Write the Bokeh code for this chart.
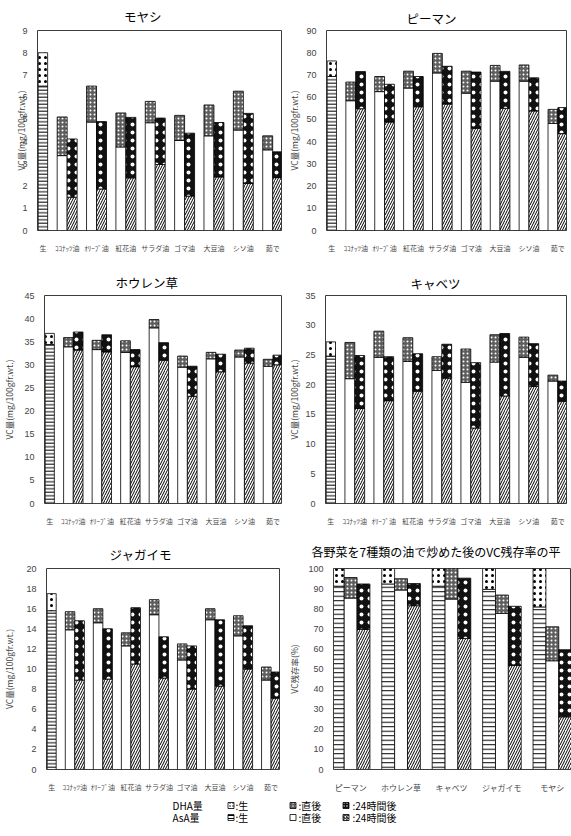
import numpy as np
from bokeh.plotting import figure
from bokeh.layouts import column, row
from bokeh.models import Range1d, FixedTicker
from bokeh.embed import file_html
from bokeh.resources import INLINE
from bokeh.core.properties import value

JP = "Noto Sans CJK JP"
NUM = "Liberation Sans"

# ---- x-axis labels -------------------------------------------------------
raw_label = "生"
oil_labels = ["ｺｺﾅｯﾂ油", "ｵﾘｰﾌﾞ油", "紅花油", "サラダ油", "ゴマ油", "大豆油", "シソ油", "茹で"]
veg_labels = ["ピーマン", "ホウレン草", "キャベツ", "ジャガイモ", "モヤシ"]

# ---- VC content (mg/100gfr.wt.) : AsA and DHA --------------------------
# raw value, then per oil: right after stir-frying (imm) and 24 h later (24h)
moyashi_raw = [6.5, 1.5]
moyashi_imm_asa = [3.37, 4.88, 3.76, 4.85, 4.05, 4.26, 4.52, 3.63]
moyashi_imm_dha = [1.74, 1.62, 1.53, 0.96, 1.13, 1.39, 1.75, 0.63]
moyashi_24h_asa = [1.50, 1.87, 2.37, 2.97, 1.55, 2.41, 2.12, 2.38]
moyashi_24h_dha = [2.62, 3.03, 2.72, 2.09, 2.83, 2.45, 3.15, 1.16]

piman_raw = [69.3, 7.0]
piman_imm_asa = [58.4, 62.5, 64.1, 70.9, 61.8, 67.2, 67.2, 48.2]
piman_imm_dha = [8.4, 6.8, 7.6, 8.8, 9.9, 7.1, 7.3, 6.3]
piman_24h_asa = [54.8, 48.8, 55.7, 56.9, 46.0, 55.0, 53.8, 43.6]
piman_24h_dha = [16.7, 17.0, 13.6, 17.0, 25.3, 16.6, 14.9, 11.7]

horenso_raw = [34.4, 2.4]
horenso_imm_asa = [33.9, 33.3, 32.7, 38.0, 29.5, 31.3, 31.7, 29.7]
horenso_imm_dha = [2.0, 2.0, 2.5, 1.8, 2.4, 1.4, 1.5, 1.5]
horenso_24h_asa = [33.2, 32.8, 29.6, 31.0, 23.2, 28.5, 30.4, 30.0]
horenso_24h_dha = [3.9, 3.7, 3.7, 3.8, 6.5, 3.8, 3.2, 2.1]

cabbage_raw = [24.8, 2.4]
cabbage_imm_asa = [21.0, 24.6, 23.9, 22.4, 20.4, 23.8, 24.6, 20.6]
cabbage_imm_dha = [6.1, 4.4, 4.0, 2.3, 5.6, 4.6, 3.4, 1.0]
cabbage_24h_asa = [16.0, 17.3, 18.9, 21.1, 12.7, 18.1, 19.7, 17.2]
cabbage_24h_dha = [8.9, 7.4, 6.3, 5.7, 11.0, 10.5, 7.2, 3.4]

potato_raw = [15.8, 1.7]
potato_imm_asa = [13.9, 14.6, 12.3, 15.4, 10.9, 14.9, 13.3, 8.9]
potato_imm_dha = [1.8, 1.4, 1.3, 1.5, 1.6, 1.1, 2.0, 1.3]
potato_24h_asa = [8.9, 9.0, 10.5, 9.1, 8.0, 8.3, 10.0, 7.1]
potato_24h_dha = [5.9, 5.0, 5.6, 4.1, 4.3, 6.6, 4.3, 2.6]

# ---- mean VC residual rate (%) over the seven oils ----------------------
res_raw_asa = [91.2, 92.3, 91.2, 89.6, 80.9]
res_raw_dha = [8.8, 7.7, 8.8, 10.4, 19.1]
res_imm_asa = [85.3, 89.3, 84.8, 77.7, 54.1]
res_imm_dha = [10.2, 5.6, 15.7, 9.1, 16.9]
res_24h_asa = [69.7, 81.5, 65.2, 51.8, 26.2]
res_24h_dha = [22.6, 11.0, 30.0, 29.4, 33.4]

legend_rows = ["DHA量", "AsA量"]
legend_stages = [":生", ":直後", ":24時間後"]

# ---- fill styles -------------------------------------------------------
STYLE = {
    "raw_asa": dict(fill_color="white", hatch_pattern="horizontal_line",
                    hatch_color="black", hatch_scale=3.5, hatch_weight=1),
    "raw_dha": dict(fill_color="white", hatch_pattern="dot",
                    hatch_color="black", hatch_scale=6, hatch_weight=0.6),
    "imm_asa": dict(fill_color="white"),
    "imm_dha": dict(fill_color="#5e5e5e", hatch_pattern="dot",
                    hatch_color="white", hatch_scale=4, hatch_weight=0.5),
    "h24_asa": dict(fill_color="white", hatch_pattern="right_diagonal_line",
                    hatch_color="black", hatch_scale=5, hatch_weight=1),
    "h24_dha": dict(fill_color="#111111", hatch_pattern="dot",
                    hatch_color="white", hatch_scale=8, hatch_weight=0.6),
}


def stack(p, x, width, asa, dha, kind, hscale=None):
    asa = np.atleast_1d(np.asarray(asa, dtype=float))
    dha = np.atleast_1d(np.asarray(dha, dtype=float))
    s_asa = dict(STYLE[kind + "_asa"])
    s_dha = dict(STYLE[kind + "_dha"])
    if hscale is not None and kind == "raw":
        s_asa["hatch_scale"] = hscale
    p.vbar(x=list(x), width=width, bottom=0, top=asa,
           line_color="black", line_width=0.8, **s_asa)
    p.vbar(x=list(x), width=width, bottom=asa, top=asa + dha,
           line_color="black", line_width=0.8, **s_dha)


def base_figure(w, h, left, right, top, bottom, xr, ymax, ystep, ylabel,
                title, t_offset, t_standoff, lab_standoff, t_size="12.5px"):
    p = figure(width=w, height=h, x_range=xr, y_range=Range1d(0, ymax),
               output_backend="svg", toolbar_location=None,
               min_border_left=left, min_border_right=right,
               min_border_top=top, min_border_bottom=bottom)
    p.background_fill_color = "white"
    p.border_fill_color = "white"
    p.outline_line_color = "#3c3c3c"
    p.outline_line_width = 1
    p.xgrid.visible = False
    p.ygrid.visible = False

    p.title.text = title
    p.title.align = "left"
    p.title.offset = t_offset
    p.title.standoff = t_standoff
    p.title.text_font = JP
    p.title.text_font_size = t_size
    p.title.text_font_style = "normal"
    p.title.text_color = "black"

    ya = p.yaxis[0]
    ya.ticker = FixedTicker(ticks=list(range(0, ymax + 1, ystep)))
    ya.axis_label = ylabel
    ya.axis_label_text_font = JP
    ya.axis_label_text_font_size = "8.5px"
    ya.axis_label_text_font_style = "normal"
    ya.axis_label_standoff = lab_standoff
    ya.major_label_text_font = NUM
    ya.major_label_text_font_size = "9px"
    ya.major_label_standoff = 4
    ya.axis_line_color = None
    ya.major_tick_line_color = None
    ya.minor_tick_line_color = None

    xa = p.xaxis[0]
    xa.axis_line_color = None
    xa.major_tick_line_color = None
    xa.minor_tick_line_color = None
    xa.major_label_text_font = JP
    xa.major_label_standoff = 6
    return p


def vc_panel(title, raw, imm_asa, imm_dha, h24_asa, h24_dha, ymax, ystep,
             w, h, left, right, top, bottom, t_offset, t_standoff, lab_standoff):
    p = base_figure(w, h, left, right, top, bottom, Range1d(-0.01, 8.3),
                    ymax, ystep, "VC量(mg/100gfr.wt.)", title,
                    t_offset, t_standoff, lab_standoff)
    raw_x = 0.175
    pos = np.arange(1, len(oil_labels) + 1)
    stack(p, [raw_x], 0.32, raw[0], raw[1], "raw")
    stack(p, pos - 0.17, 0.34, imm_asa, imm_dha, "imm")
    stack(p, pos + 0.17, 0.34, h24_asa, h24_dha, "h24")

    xa = p.xaxis[0]
    xa.ticker = FixedTicker(ticks=[raw_x] + [int(v) for v in pos])
    overrides = {raw_x: raw_label}
    for v, lab in zip(pos, oil_labels):
        overrides[int(v)] = lab
    xa.major_label_overrides = overrides
    xa.major_label_text_font_size = "7px"
    return p


p1 = vc_panel("モヤシ", moyashi_raw, moyashi_imm_asa, moyashi_imm_dha,
              moyashi_24h_asa, moyashi_24h_dha, 9, 1,
              285, 255, 37, 4, 28, 20, 86.5, 9, -8)
p2 = vc_panel("ピーマン", piman_raw, piman_imm_asa, piman_imm_dha,
              piman_24h_asa, piman_24h_dha, 90, 10,
              286, 255, 40, 5, 30, 18, 80, 6, 3)
p3 = vc_panel("ホウレン草", horenso_raw, horenso_imm_asa, horenso_imm_dha,
              horenso_24h_asa, horenso_24h_dha, 45, 5,
              285, 275, 33, 4, 37, 27, 71, 7, 6)
p4 = vc_panel("キャベツ", cabbage_raw, cabbage_imm_asa, cabbage_imm_dha,
              cabbage_24h_asa, cabbage_24h_dha, 35, 5,
              286, 275, 40, 5, 40, 26, 85, 6, 2)
p5 = vc_panel("ジャガイモ", potato_raw, potato_imm_asa, potato_imm_dha,
              potato_24h_asa, potato_24h_dha, 20, 2,
              285, 265, 37, 6, 33, 18, 63, 10, 8)

# residual-rate panel: three bars per vegetable
p6 = base_figure(286, 265, 39, 0, 38, 18, Range1d(-0.34, 4.38), 100, 10,
                 "VC残存率(%)", "各野菜を7種類の油で炒めた後のVC残存率の平",
                 -22, 18, 5, t_size="12px")
vx = np.arange(len(veg_labels))
bw = 0.255
stack(p6, vx - bw, bw, res_raw_asa, res_raw_dha, "raw", hscale=4.5)
stack(p6, vx, bw, res_imm_asa, res_imm_dha, "imm")
stack(p6, vx + bw, bw, res_24h_asa, res_24h_dha, "h24")
xa6 = p6.xaxis[0]
xa6.ticker = FixedTicker(ticks=[int(v) for v in vx])
xa6.major_label_overrides = {int(v): lab for v, lab in zip(vx, veg_labels)}
xa6.major_label_text_font_size = "8px"

# ---- legend strip ---------------------------------------------------------
leg = figure(width=571, height=41, x_range=Range1d(0, 571), y_range=Range1d(41, 0),
             output_backend="svg", toolbar_location=None, min_border=0)
leg.axis.visible = False
leg.grid.visible = False
leg.outline_line_color = None
leg.background_fill_color = "white"
leg.border_fill_color = "white"

row_y = [10, 22]
sym_x = [230.5, 292.5, 345.5]
txt_x = [235, 298, 352]
leg.text(x=[172, 172], y=row_y, text=legend_rows, text_font=value(JP),
         text_font_size="10px", text_baseline="middle", text_color="black")
for r, kinds in enumerate([["raw_dha", "imm_dha", "h24_dha"],
                           ["raw_asa", "imm_asa", "h24_asa"]]):
    for k, kind in enumerate(kinds):
        st = dict(STYLE[kind])
        if "hatch_scale" in st:
            st["hatch_scale"] = min(st["hatch_scale"], 3)
        leg.rect(x=[sym_x[k]], y=[row_y[r]], width=6, height=6,
                 line_color="black", line_width=0.8, **st)
    leg.text(x=txt_x, y=[row_y[r]] * 3, text=legend_stages, text_font=value(JP),
             text_font_size="10px", text_baseline="middle", text_color="black")

layout = column(row(p1, p2), row(p3, p4), row(p5, p6), leg)

open("out.html", "w").write(file_html(layout, INLINE))
